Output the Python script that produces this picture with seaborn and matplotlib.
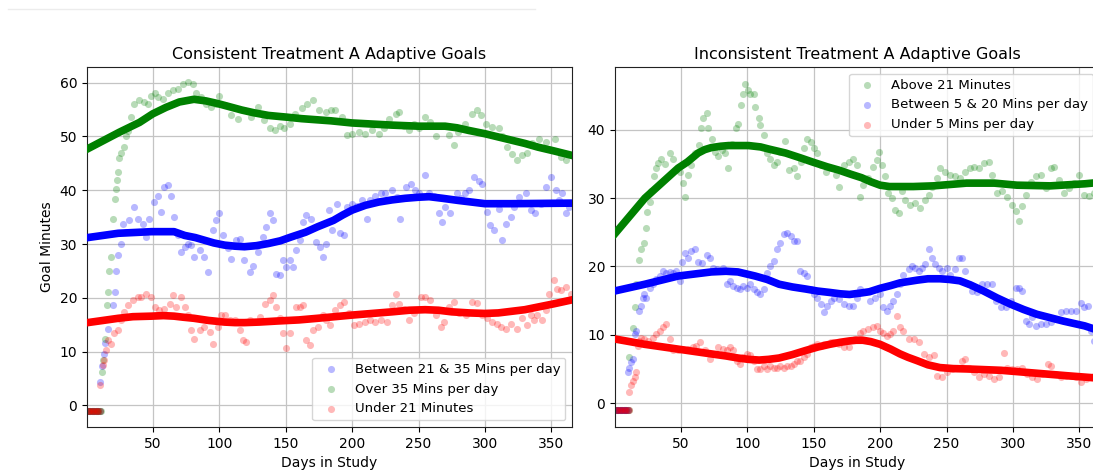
import matplotlib
matplotlib.use("Agg")
import matplotlib.pyplot as plt
import seaborn as sns
from matplotlib.lines import Line2D

# ---------------- DATA: Consistent Treatment A ----------------
cons_blue_day = [1, 2, 3, 4, 5, 6, 7, 8, 9, 10,
    10.6, 12, 13, 14, 16, 19.8, 21.6, 22.4, 23.6, 26, 27.4, 29.9, 32.4, 36.2, 38.7, 42.5, 45, 47.5,
    51, 53.8, 56.3, 58.8, 61.3, 63.8, 66.3, 68.8, 71.4, 73.9, 76.4, 78.9, 81.4, 85.2, 88.9, 91.5,
    95.2, 97.7, 100, 102.8, 106.5, 109, 112.8, 115.3, 119, 122.9, 125.4, 129, 132.9, 135.4, 137.9,
    140.4, 143, 145.5, 148, 150.5, 153, 155.5, 158, 160.6, 163, 165.6, 169.3, 173, 175.6, 178, 180,
    182.4, 185, 188.7, 191.2, 193.7, 196.2, 200, 203.8, 207.5, 211.3, 213.8, 217.6, 221.4, 225, 230,
    234, 236.4, 240.2, 244, 247.7, 250, 255, 257.8, 261.6, 265.3, 267.8, 270, 274, 279, 281.6, 285,
    288, 291.7, 295.5, 298, 301.8, 304, 306.8, 310.5, 313, 315.6, 319.3, 322, 325.6, 330.6, 334.4,
    338, 342, 345.8, 349.5, 353.3, 355.8, 358, 360.8, 363.3]
cons_blue_val = [-1, -1, -1, -1, -1, -1, -1, -1, -1, -1,
    4.4, 7.3, 9.5, 11.6, 14.3, 18.6, 21, 25, 28, 30, 33.8, 32.3, 34.4, 36.9, 34.7, 33.8, 31.3, 34.7,
    37.8, 39, 36, 40.6, 40.9, 39, 35, 31.6, 28.5, 29.5, 30, 29.8, 27.6, 28.9, 27.6, 24.8,
    32.6, 34.4, 35.7, 31.6, 29.2, 27.3, 30.7, 31, 27, 24.8, 26, 28.5, 31.3, 33.2, 35.7,
    34.4, 24.5, 24.2, 27, 25.8, 27, 25.8, 28.9, 30.7, 34.1, 35.4, 34.7, 30.4, 29.5, 27.6, 30,
    36.3, 32.6, 37.5, 32, 31.6, 36.9, 37.5, 37, 38.1, 34.7, 38.1, 39, 39.4, 39.4, 40,
    38.8, 34.7, 40.6, 41.2, 40, 39.4, 42.8, 39.4, 39, 35.7, 34.1, 36.9, 35.7, 39.4, 38.5, 39.4,
    40, 42.5, 41.8, 41.2, 36, 33.5, 32.6, 36.6, 30.7, 33.8, 35, 36.9, 38.8, 39.4, 36.3,
    35.7, 37.5, 40.6, 42.5, 40, 38.1, 39.4, 35.7, 36.9]

cons_green_day = [1, 2, 3, 4, 5, 6, 7, 8, 9, 10, 11,
    11.6, 12.5, 14, 15.6, 16.5, 17.3, 18.6, 20.4, 21.7, 22.6, 23.1, 23.6, 24.8, 26, 28, 29.9, 31.1,
    33.7, 36.2, 40, 43.7, 46.2, 48.7, 51.3, 53.8, 57.5, 61.3, 65, 68.8, 72.6, 76.4, 80.2, 82.7, 86.5,
    90.2, 94, 97.7, 100.2, 104, 109, 114, 119, 124, 129, 134, 138, 142, 145.5, 149, 153, 157, 162,
    166, 170.6, 175, 180, 184, 187.4, 192.5, 196, 200, 205, 210, 215, 220, 224, 227.6, 232.7, 235,
    239, 242.7, 246.5, 250, 255, 259, 263, 266.6, 273, 276.6, 280, 285, 290, 294, 296.7, 300.5,
    305.5, 310.5, 313, 316.8, 320.6, 324, 328, 332, 335.7, 340.7, 345.7, 353, 357, 360.8, 364.6]
cons_green_val = [-1, -1, -1, -1, -1, -1, -1, -1, -1, -1, -1,
    6.3, 8.4, 12.4, 18.6, 21, 25, 27.5, 34.7, 38.3, 40.3, 41.9, 43.4, 45.9, 47, 48, 50, 51,
    53.6, 56, 56.7, 56.4, 56, 57.6, 58, 57.3, 57, 58, 58.6, 58.9, 59.8, 60.1, 59.8, 58, 57.3,
    56, 55.5, 56, 57.6, 55.8, 53.9, 53.3, 54.9, 53.6, 55.5, 53, 51.5, 51.1, 52, 51.5, 52.4, 54.2, 55.2,
    56, 56.7, 54.9, 54.6, 54.9, 54.9, 53.6, 50.2, 50.5, 50.8, 50.5, 51.1, 50.5, 51.5, 53.3, 54.2, 54.6,
    52, 51.1, 52.4, 51.5, 53.6, 52.7, 50, 52, 50.2, 48.4, 50.8, 52.4, 54.2, 54.9, 54, 52.4,
    51.8, 51.5, 50, 48, 46.8, 45.6, 46.5, 47, 48.7, 49.6, 49, 49.6, 46.2, 45.6, 46.5]

cons_red_day = [1, 2, 3, 4, 5, 6, 7, 8, 9, 10,
    10.6, 12.3, 13.6, 14.8, 16, 18.6, 21, 23.6, 26, 28.6, 31, 34.9, 38.7, 41.2, 45, 48.7, 51.3, 55,
    58.8, 62.6, 65, 67.6, 71.4, 73.9, 76.4, 78.9, 81.4, 85.2, 88.9, 92.7, 95.2, 99, 101.5, 104, 107.8,
    111.6, 115.3, 117.8, 120.4, 122.9, 126.6, 130.4, 134.2, 137.9, 140.5, 143, 145.5, 148, 150.5, 153,
    155.5, 158, 160.6, 163, 165.6, 168, 170.6, 174.4, 178, 180, 183.7, 187.4, 191.2, 193.7, 197.5,
    201.3, 205, 210, 213.8, 217.6, 221.4, 226.4, 230, 232.7, 235, 239, 242.7, 246.5, 251.5, 255, 259,
    262.8, 266.6, 269, 273, 276.6, 280.4, 285.4, 290.5, 294.2, 298, 301.8, 305.5, 309.3, 311.8, 315.6,
    319.3, 324.4, 328, 332, 334.4, 337, 339.4, 343.2, 345.7, 348.2, 352, 354.5, 357, 360.8, 364.6]
cons_red_val = [-1, -1, -1, -1, -1, -1, -1, -1, -1, -1,
    3.8, 7.5, 8.4, 10.3, 12.1, 11.5, 13.4, 14, 15.9, 17.4, 18.6, 19.6, 20.2, 20.2, 20.8, 20.2, 18.3, 17.7,
    18, 18.9, 20.5, 18.3, 20.2, 18.3, 16.8, 14, 12.4, 14, 14.6, 13.7, 11.5, 14.6, 16.8, 16.8, 15.9,
    15.9, 14, 12.1, 11.8, 15.9, 15.5, 16.5, 18.9, 19.6, 20.5, 18.3, 16.2, 13.4, 10.6, 13.4,
    15.9, 18.3, 18.3, 18.6, 12.1, 11.2, 14, 14.6, 16.8, 15.9, 14.9, 17.7, 18.6, 19.3, 17.1,
    14.9, 15.2, 15.5, 15.9, 15.5, 15.9, 15.5, 18.6, 20.8, 18.9, 18, 15.9, 17.1, 20.2, 20.2, 19.6,
    16.8, 14.6, 15.5, 18.3, 19.3, 17.1, 16.8, 19.3, 19, 16.8, 16.2, 15.5, 15.2, 14.6, 14.3,
    15.2, 14.3, 16.2, 15, 16.8, 15.9, 16.8, 15.9, 17.7, 20.8, 23.3, 21.7, 21.4, 22, 20.8]

cons_fit_day = {
    "blue": [1, 24, 49, 66, 74, 82, 89, 96, 104, 112, 119, 128, 137, 146, 154, 165, 174, 186, 193, 200,
             210, 220, 230, 240, 250, 258, 268, 280, 290, 300, 320, 365],
    "green": [1, 25, 40, 50, 60, 70, 81, 90, 99, 108, 117, 126, 137, 150, 162, 173, 184, 200, 215, 230,
              240, 250, 260, 270, 279, 288, 300, 310, 320, 330, 340, 352, 365],
    "red": [1, 24, 35, 49, 58, 66, 73, 81, 92, 104, 112, 119, 130, 144, 160, 174, 187, 200, 215, 230,
            243, 255, 265, 275, 288, 300, 310, 320, 330, 340, 352, 365],
}
cons_fit_val = {
    "blue": [31.2, 32, 32.3, 32.3, 31.6, 31.2, 30.7, 30.2, 29.8, 29.6, 29.5, 29.7, 30.1, 30.6, 31.3, 32.2,
             33.2, 34.4, 35.4, 36.3, 37.2, 37.8, 38.2, 38.5, 38.7, 38.8, 38.5, 38.1, 37.8, 37.5, 37.5, 37.6],
    "green": [47.7, 50.8, 52.6, 54.2, 55.4, 56.4, 56.9, 56.6, 56.1, 55.5, 54.9, 54.4, 53.9, 53.6, 53.3,
              53.1, 52.9, 52.5, 52.3, 52.1, 52.0, 51.9, 51.9, 51.9, 51.6, 51.1, 50.5, 49.9, 49.3, 48.7,
              48, 47.3, 46.5],
    "red": [15.4, 16.2, 16.5, 16.6, 16.7, 16.6, 16.4, 16.2, 15.8, 15.5, 15.4, 15.4, 15.5, 15.7, 15.9, 16.2,
            16.5, 16.8, 17.1, 17.4, 17.7, 17.8, 17.7, 17.4, 17.2, 17.1, 17.2, 17.5, 17.8, 18.3, 18.9, 19.6],
}

# ---------------- DATA: Inconsistent Treatment A ----------------
inc_green_day = [1, 2, 3, 4, 5, 6, 7, 8, 9, 10, 11,
    11.4, 13.9, 15.2, 16.4, 18.9, 20.2, 22.2, 23.5, 24.7, 26.5, 27.8, 29.8, 31.6, 32.8, 35.4, 37.9,
    41.7, 44.2, 46.7, 49.2, 51.8, 53, 55.6, 58, 60.6, 63.6, 65.2, 66.9, 69.4, 70.7, 73.2, 75.8, 78.3,
    80.8, 83.3, 85.9, 88.4, 91.4, 93.4, 95.5, 97.2, 98.5, 100.3, 102.3, 104.8, 106, 108.6, 109.8,
    112.4, 114.9, 117.4, 120, 122.5, 125, 128.8, 131.3, 135, 137.6, 140.2, 142.7, 145.2, 147.7,
    150.3, 152.8, 155.3, 159, 162.9, 166.7, 169.2, 173, 176.8, 179.8, 182.4, 184.9, 187.4, 191.2,
    195, 197.5, 199.5, 201.3, 203.8, 206.3, 208.8, 211.3, 213.9, 216.4, 218.9, 222.7, 226.4, 230.2,
    234, 236.5, 239, 242.8, 245.3, 249.1, 252.9, 256.7, 260.5, 264.2, 268, 270.5, 274.3, 278, 281.9,
    284.4, 288.2, 292, 295.7, 299.5, 302, 304.5, 307, 309.6, 313.4, 317.1, 320.9, 324.7, 328.5, 331,
    334.8, 338.5, 342.3, 346, 349.9, 353.3, 357.4, 360.7, 364]
inc_green_val = [-1, -1, -1, -1, -1, -1, -1, -1, -1, -1, -1,
    6.7, 11, 14, 17.4, 21, 22.5, 23.4, 25.6, 28, 29.5, 31, 33.2, 34.4, 35.1, 35.8, 35,
    36.6, 35.8, 34.1, 33.9, 32.2, 30.2, 33.4, 34.9, 36.6, 37.8, 40.2, 41.7, 42.4, 40.2, 38.7, 36.8, 36.1,
    37, 36.6, 34.4, 38, 40.2, 40.9, 43.6, 45.3, 46.7, 45.8, 45.3, 45.3, 43.4, 41.7, 40.7,
    39.2, 36.6, 35.8, 34.9, 35.3, 36.8, 38.3, 34.1, 34.4, 33.2, 35.3, 37.3, 38.7, 38.2,
    37.3, 36.6, 34.9, 33.9, 34.4, 33.4, 31.7, 34.9, 35.3, 35.8, 34.9, 30.2, 31.9, 32.9,
    34.6, 35.6, 36.8, 34.9, 33.2, 30.7, 30, 28.3, 27.8, 31, 29.8, 29, 29.3, 28.5,
    29.8, 30.5, 31.7, 32.9, 34.4, 33.9, 33.4, 33.2, 32.9, 33.9, 34.4, 34.6, 34.4, 35.1, 35.3,
    33.4, 30.7, 31, 30.2, 29, 28.1, 26.6, 28.8, 30.5, 32.4, 33.2, 33.4, 31.5, 34.4, 34.6,
    32.7, 30.7, 31.5, 32.2, 33.4, 30.5, 30.3, 30.7, 31.5]

inc_blue_day = [1, 2, 3, 4, 5, 6, 7, 8, 9, 10,
    10.1, 11.4, 12.6, 13.9, 15.2, 16.4, 18.9, 20.2, 21.5, 22.7, 24, 26.5, 29, 31.6, 34.1, 36.6, 39.1,
    41.7, 44.2, 46.7, 49.2, 51, 53, 55.6, 58, 60.6, 63.1, 65.7, 69.4, 72, 74.5, 77, 79.6, 82, 84.6,
    87.1, 89.6, 92.2, 94.7, 97.2, 99.7, 102.3, 104.8, 107.3, 109.8, 112.4, 114.9, 117.4, 120, 122.5,
    125, 127.6, 130, 132.6, 135, 137.6, 140, 142.7, 145.2, 147.7, 150.3, 152.8, 155.3, 157.8, 160.3,
    162.9, 165.4, 169.2, 173, 176.8, 179.8, 182.4, 184.9, 188.6, 192.4, 196.2, 200, 202.5, 205,
    207.5, 210, 212.6, 215, 217.6, 221.4, 223.9, 226.4, 229, 231.5, 234, 236.5, 239, 241.5, 244,
    246.5, 250.4, 252.9, 256.7, 259.2, 261.7, 264.2, 266.8, 269.3, 273, 276.8, 280.6, 284.4, 286.9,
    290.7, 294.4, 298.2, 302, 304.5, 307, 309.6, 312.1, 314.6, 317.1, 320.9, 324.7, 328.5, 332.3,
    336, 339.8, 343.6, 347.4, 351.2, 353.7, 356.2, 358.7, 360.7, 363.5]
inc_blue_val = [-1, -1, -1, -1, -1, -1, -1, -1, -1, -1,
    4.5, 5.2, 6, 6.5, 10.1, 10.6, 13.5, 14.2, 15.4, 15.9, 15.4, 16.9, 17.4, 18.1, 18.6, 19.3, 19.1,
    19.2, 19.1, 19.3, 17.9, 20.7, 21.9, 21.3, 22.2, 22.5, 20.7, 20.5, 21.7, 21.3, 19.8, 19.6, 19.3, 19.8, 17.4,
    17.9, 17.1, 16.9, 16.7, 17.1, 16.9, 17.4, 16.7, 16.2, 15.9, 16.7, 19.1, 20.1, 20.8, 22.5,
    23.4, 24.7, 24.9, 24.5, 23.7, 23.7, 19.3, 19.1, 18.6, 16.7, 15.9, 15.4, 14.5, 13.3, 14.2,
    15, 15.4, 15.2, 14.5, 14.2, 14.2, 15.4, 16.7, 16.3, 15, 15.4, 15.9, 14, 13.5,
    14.2, 15, 15.9, 17.4, 18.8, 19.6, 20, 19.8, 19.3, 19.8, 20.3, 22.5, 21.3, 20.3, 19.8,
    19.3, 19.8, 18.8, 19.6, 21.3, 21.3, 19.3, 17.4, 16.4, 16.2, 17.4, 17.4, 17.4, 15,
    14, 14, 15, 16.9, 16.9, 16.4, 12, 11.6, 12.6, 11.3, 11.6, 11.6, 11.8, 12.3,
    13.3, 13.5, 13.5, 13.5, 14.7, 14, 14.2, 10.6, 9.1, 8.5]

inc_red_day = [1, 2, 3, 4, 5, 6, 7, 8, 9, 10, 11,
    11.4, 12.6, 13.9, 15.2, 16.4, 17.7, 18.9, 20.2, 22.7, 25.2, 29, 31.6, 34.1, 36.6, 39.1, 41.7, 44.2,
    48, 51.8, 55.6, 59.3, 61.8, 64.4, 68.2, 71.9, 75.8, 78.3, 82.1, 84.6, 87.1, 89.6, 92.2, 94.7, 97.2,
    99.7, 102.3, 104.8, 107.3, 109.8, 112.4, 114.9, 117.4, 120, 122.5, 125, 127.6, 130, 132.6, 135,
    137.6, 140, 142.7, 145.2, 147.7, 150.3, 152.8, 155.3, 157.8, 160.3, 162.9, 165.4, 169.2, 173,
    176.8, 181.1, 184.9, 187.4, 191.2, 195, 197.5, 200, 202.5, 205, 207.6, 210, 212.6, 215, 217.6,
    221.4, 225.2, 229, 232.7, 236.5, 240.3, 242.8, 246.6, 250.4, 254.2, 258, 261.7, 264.2, 266.8,
    270.5, 274.3, 278, 281.9, 285.6, 289.4, 293.2, 295.7, 299.5, 303.3, 307, 310.8, 314.6, 318.4,
    322.2, 326, 328.5, 332.2, 336, 339.8, 343.6, 347.4, 351.2, 355, 358.7, 360.7, 363.5]
inc_red_val = [-1, -1, -1, -1, -1, -1, -1, -1, -1, -1, -1,
    1.6, 2.6, 3.3, 3.8, 4.5, 8.4, 9.1, 9.6, 9.4, 9.1, 9.6, 10.1, 10.6, 11.1, 11.6, 9.4, 7.7,
    7.7, 7.9, 7.9, 8.2, 8.4, 8.9, 7.7, 6.5, 7.2, 8.2, 7.9, 7.7, 8.2, 7.7, 6.2, 5.7, 6.7,
    7.2, 7, 6.2, 5, 5, 5.5, 5, 5.5, 5.2, 5.2, 5.5, 5.2, 5.5, 5.5, 5.7,
    6.2, 6.2, 6.7, 7.2, 8.2, 8.4, 8.6, 8.4, 8.6, 8.6, 8.9, 8.9, 8.6, 8.2,
    8.2, 9.4, 10.3, 10.6, 10.8, 11.1, 11.3, 10.6, 10.3, 9.8, 10.1, 10.6, 12.8, 11.1, 10.6,
    9.4, 9.4, 8.9, 7.2, 6.7, 7, 4, 3.8, 4.5, 5, 5.2, 6.2, 6.5, 5.2,
    4.5, 3.8, 4.3, 4, 3.5, 3.8, 7.4, 5.2, 5, 5, 5.2, 4.2, 3.8, 3.5,
    4.2, 5.7, 5.5, 4.2, 3.8, 4, 4, 3.8, 3.1, 3.5, 3.8, 4, 3.9]

inc_fit_day = {
    "green": [0, 23, 48, 55, 63, 68, 73, 80, 86, 101, 110, 116, 129, 140, 149, 160, 169, 178, 186, 193,
              200, 207, 215, 225, 240, 265, 286, 303, 328, 354, 365],
    "blue": [0, 23, 48, 73, 84, 93, 106, 115, 124, 134, 144, 153, 162, 170, 177, 185, 192, 200, 208, 215,
             228, 236, 245, 252, 260, 268, 278, 288, 298, 308, 318, 328, 338, 354, 365],
    "red": [0, 23, 48, 73, 84, 93, 101, 109, 116, 124, 134, 144, 153, 162, 170, 177, 182, 187, 193, 200,
            208, 215, 221, 228, 236, 245, 255, 265, 278, 291, 316, 341, 361, 365],
}
inc_fit_val = {
    "green": [24.7, 30, 34.4, 35.3, 36.6, 37.1, 37.4, 37.6, 37.7, 37.7, 37.5, 37.2, 36.6, 35.9, 35.3, 34.6,
              34.1, 33.5, 33, 32.4, 31.9, 31.7, 31.7, 31.7, 31.8, 32.2, 32.2, 31.9, 31.8, 32.1, 32.3],
    "blue": [16.4, 17.4, 18.6, 19.2, 19.3, 19.2, 18.6, 18.1, 17.4, 17, 16.7, 16.4, 16.2, 16, 15.9, 16.1,
             16.3, 16.8, 17.2, 17.6, 18, 18.2, 18.2, 18.1, 17.9, 17.3, 16.4, 15.4, 14.5, 13.7, 13, 12.5,
             12, 11.3, 10.6],
    "red": [9.4, 8.6, 7.9, 7.2, 6.9, 6.6, 6.4, 6.3, 6.4, 6.6, 7.1, 7.7, 8.2, 8.6, 8.9, 9.1, 9.2, 9.2, 9.0,
            8.6, 7.9, 7.2, 6.7, 6.2, 5.6, 5.2, 5.05, 5, 4.9, 4.8, 4.4, 4, 3.7, 3.6],
}

cons_labels = {"blue": "Between 21 & 35 Mins per day", "green": "Over 35 Mins per day", "red": "Under 21 Minutes"}
inc_labels = {"green": "Above 21 Minutes", "blue": "Between 5 & 20 Mins per day", "red": "Under 5 Mins per day"}
x_ticks = [50, 100, 150, 200, 250, 300, 350]

# ---------------- PLOT ----------------
plt.rcParams['font.family'] = ['DejaVu Sans']
fig = plt.figure(figsize=(10.93, 4.70), dpi=100)
W, H = 1093, 470
ax1 = fig.add_axes([87 / W, 1 - 427 / H, 485 / W, 360 / H])
ax2 = fig.add_axes([615 / W, 1 - 427 / H, 485 / W, 360 / H])

PT_ALPHA = 0.28
PT_SIZE = 26

def draw(ax, series, fits_d, fits_v, labels, order):
    for c in order:
        d, v = series[c]
        sns.scatterplot(x=d, y=v, ax=ax, color=c, alpha=PT_ALPHA, s=PT_SIZE,
                        linewidth=0, label=labels[c], zorder=2)
    for c in order:
        sns.lineplot(x=fits_d[c], y=fits_v[c], ax=ax, color=c, linewidth=5.5,
                     zorder=3, legend=False, solid_joinstyle="round")
    ax.grid(True, color="#c4c4c4", linewidth=0.9)
    ax.set_axisbelow(True)
    ax.set_xticks(x_ticks)
    ax.set_xlim(0.5, 365.5)
    ax.set_xlabel("Days in Study", fontsize=10)
    ax.tick_params(labelsize=10)
    for s in ax.spines.values():
        s.set_color("#222222")

draw(ax1,
     {"blue": (cons_blue_day, cons_blue_val), "green": (cons_green_day, cons_green_val),
      "red": (cons_red_day, cons_red_val)},
     cons_fit_day, cons_fit_val, cons_labels, ["blue", "green", "red"])
ax1.set_ylim(-4.0, 62.9)
ax1.set_yticks([0, 10, 20, 30, 40, 50, 60])
ax1.set_ylabel("Goal Minutes", fontsize=10)
ax1.set_title("Consistent Treatment A Adaptive Goals", fontsize=11.5)
ax1.legend(loc="lower right", fontsize=9.5)

draw(ax2,
     {"green": (inc_green_day, inc_green_val), "blue": (inc_blue_day, inc_blue_val),
      "red": (inc_red_day, inc_red_val)},
     inc_fit_day, inc_fit_val, inc_labels, ["green", "blue", "red"])
ax2.set_ylim(-3.5, 49.2)
ax2.set_yticks([0, 10, 20, 30, 40])
ax2.set_ylabel("")
ax2.set_title("Inconsistent Treatment A Adaptive Goals", fontsize=11.5)
ax2.legend(loc="upper right", fontsize=9.5)

fig.add_artist(Line2D([8 / W, 535 / W], [1 - 9 / H, 1 - 9 / H], color="#ececec", linewidth=1))

fig.savefig("out.png", dpi=100)
